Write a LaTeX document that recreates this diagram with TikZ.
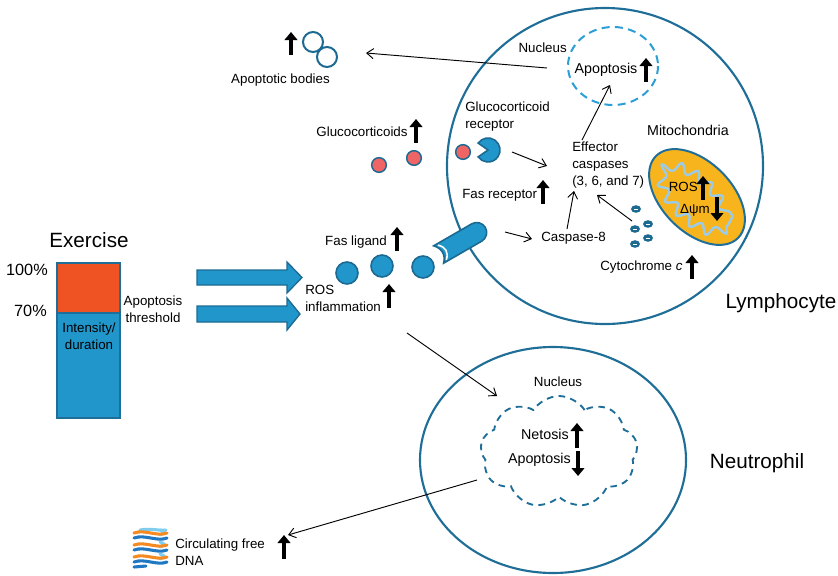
\documentclass[tikz,border=0pt]{standalone}
\usepackage{fontspec}
\setmainfont{Liberation Sans}
\usetikzlibrary{arrows.meta, shapes.symbols, decorations.pathmorphing}

\definecolor{membrane}{HTML}{1F6E98}
\definecolor{cellfill}{HTML}{2196CB}
\definecolor{cellline}{HTML}{1C6A92}
\definecolor{barorange}{HTML}{F05323}
\definecolor{mitofill}{HTML}{F8B41C}
\definecolor{coral}{HTML}{EF6464}
\definecolor{nucdash}{HTML}{2B9ED6}
\definecolor{cristae}{HTML}{9CCBE8}
\definecolor{dnaorange}{HTML}{F58A20}
\definecolor{dnablue}{HTML}{1F78C1}
\definecolor{dnalight}{HTML}{7FCDEE}

\tikzset{
  lbl/.style={inner sep=0pt, font=\fontsize{10}{12.75}\selectfont},
  midlbl/.style={inner sep=0pt, font=\fontsize{10.7}{13}\selectfont},
  biglbl/.style={inner sep=0pt, font=\fontsize{15.5}{18}\selectfont},
  uparr/.style={line width=3.3pt, -{Triangle[length=6pt,width=9.5pt]}},
  flow/.style={line width=0.7pt, -{Straight Barb[length=5pt,width=7.5pt]}},
  cellwall/.style={draw=membrane, line width=1.6pt},
  ball/.style={circle, fill=cellfill, draw=cellline, line width=1.2pt,
    minimum size=16.5pt, inner sep=0pt},
  hormone/.style={circle, fill=coral, draw=cellline, line width=1.1pt,
    minimum size=11pt, inner sep=0pt},
  body/.style={circle, fill=white, draw=cellline, line width=1.5pt,
    minimum size=15pt, inner sep=0pt},
  bigflow/.style={fill=cellfill, draw=cellline, line width=1pt},
  strand/.style={line width=2.3pt, line cap=round},
}

\begin{document}
\begin{tikzpicture}[x=0.75pt, y=-0.75pt]
\useasboundingbox (0,0) rectangle (838,575);

% ---------- cells ----------
\draw[cellwall] (605,166) circle[radius=158];
\draw[cellwall] (553,460) ellipse[x radius=133, y radius=113];

% lymphocyte nucleus
\draw[draw=nucdash, line width=1.5pt, dash pattern=on 6pt off 4pt]
  (613,66) ellipse[x radius=45, y radius=39];

% neutrophil nucleus
\node[cloud, cloud puffs=9, cloud puff arc=115, cloud ignores aspect,
  minimum width=118pt, minimum height=84pt, draw=membrane,
  line width=1.4pt, dash pattern=on 5pt off 4pt] (nuc2) at (559,452) {};

% mitochondrion
\begin{scope}[shift={(697,197)}, rotate=-45]
  \draw[fill=mitofill, draw=membrane, line width=1.5pt]
    (0,0) ellipse[x radius=58, y radius=35];
  \draw[cristae, line width=1.8pt, line join=round, decorate,
    decoration={snake, amplitude=3.6pt, segment length=12.55pt,
      pre length=0pt, post length=0pt}]
    (0,0) ellipse[x radius=42, y radius=20];
\end{scope}

% ---------- exercise bar ----------
\draw[fill=barorange, draw=membrane, line width=1.5pt] (57,263) rectangle (120,313);
\draw[fill=cellfill, draw=membrane, line width=1.5pt] (57,313) rectangle (120,418);

% broad arrows
\draw[bigflow] (197,270) -- (287,270) -- (287,262) -- (302,277.5) -- (287,293)
  -- (287,285) -- (197,285) -- cycle;
\draw[bigflow] (197,306) -- (287,306) -- (287,298) -- (300,314) -- (287,330)
  -- (287,322) -- (197,322) -- cycle;

% ---------- molecules ----------
\node[body] (ab1) at (313,42) {};
\node[body] (ab2) at (327,57) {};

\node[hormone] (gc1) at (379,165) {};
\node[hormone] (gc2) at (414,158) {};
\node[hormone] (gc3) at (463,152) {};
\fill[cellfill, draw=cellline, line width=1.2pt]
  (488,150) -- ++(215:12) arc[start angle=215, end angle=505, radius=12] -- cycle;
\coordinate (gcrec) at (488,150);

\node[ball] (fl1) at (347,273) {};
\node[ball] (fl2) at (382,266) {};
\node[ball] (fl3) at (423,267) {};

% Fas receptor channel
\begin{scope}[shift={(462,241)}, rotate=30]
  \draw[fill=cellfill, draw=cellline, line width=1.2pt]
    (-27,-10) -- (17,-10) arc[start angle=-90, end angle=90, radius=10]
    -- (-27,10) .. controls (-21,4) and (-21,-4) .. (-27,-10) -- cycle;
  \draw[white, line width=1.2pt] (-23,-8.5) .. controls (-17,-3) and (-17,3) .. (-23,8.5);
\end{scope}
\coordinate (fasrec) at (505,232);

% cytochrome c
\foreach \cx/\cy in {636/209, 635/229, 648/224, 648/238, 635/244}{
  \fill[cellline] (\cx,\cy) ellipse[x radius=5, y radius=3.8];
  \draw[white, line width=0.7pt] (\cx-1.8,\cy) -- (\cx+1.8,\cy);
}
\coordinate (cyt) at (632,221);

% circulating DNA helix
\foreach \by in {532,544,556}{
  \draw[dnalight, strand] (160,\by-2) .. controls (165,\by) .. (160,\by+3);
}
\foreach \by in {538,550,562}{
  \draw[dnablue, strand] (134,\by) .. controls (145,\by-4) and (157,\by+4) .. (167,\by);
}
\draw[dnalight, strand] (140,530) .. controls (150,528) and (160,531) .. (166,530);
\foreach \by in {533,545,557}{
  \draw[dnaorange, strand] (134,\by) .. controls (145,\by-4) and (157,\by+4) .. (167,\by);
}
\draw[dnablue, strand] (134,567) -- (146,566);
\coordinate (dna) at (288,535);

% ---------- labels ----------
\node[lbl] (apb) at (280.5,80) {Apoptotic bodies};
\draw[uparr] (291,55) -- (291,32);

\node[lbl, anchor=east] (nuc1lbl) at (567,48) {Nucleus};
\node[midlbl] (apo1) at (606,70) {Apoptosis};
\draw[uparr] (646,82) -- (646,58);

\node[lbl, align=left, anchor=west] (gcr) at (465,116.5) {Glucocorticoid\\receptor};
\node[lbl] (gc) at (362,132) {Glucocorticoids};
\draw[uparr] (416,143) -- (416,119);

\node[midlbl] (mitolbl) at (688,130) {Mitochondria};
\node[lbl, align=left, anchor=west] (eff) at (572,165) {Effector\\caspases\\(3, 6, and 7)};

\node[lbl, anchor=west] (fasr) at (462,195) {Fas receptor};
\draw[uparr] (543,204) -- (543,180);

\node[lbl, anchor=east] (ros) at (698,187) {ROS};
\draw[uparr] (703,200) -- (703,176);
\node[lbl, anchor=east] (dpsi) at (710,210) {Δψm};
\draw[uparr] (717,197) -- (717,221);

\node[lbl, anchor=west] (casp8) at (541,238) {Caspase-8};
\node[lbl] (fasl) at (356,242) {Fas ligand};
\draw[uparr] (397,251) -- (397,227);

\node[lbl, anchor=west] (cytc) at (600,267) {Cytochrome \textit{c}};
\draw[uparr] (692,279) -- (692,255);

\node[lbl, align=left, anchor=west] (rosinf) at (305,298) {ROS\\inflammation};
\draw[uparr] (389,308) -- (389,284);

\node[biglbl] (lymph) at (781,303) {Lymphocyte};
\node[biglbl] (exer) at (89,240) {Exercise};
\node[inner sep=0pt, font=\fontsize{12.2}{14}\selectfont, anchor=east] (p100) at (48,270) {100\%};
\node[inner sep=0pt, font=\fontsize{12.2}{14}\selectfont, anchor=east] (p70) at (47,311) {70\%};
\node[lbl, align=center] (thr) at (153,309) {Apoptosis\\threshold};
\node[lbl, align=center] (intd) at (89,336) {Intensity/\\duration};

\node[lbl] (nuc2lbl) at (558,382) {Nucleus};
\node[midlbl, anchor=east] (net) at (569,434) {Netosis};
\draw[uparr] (577,448) -- (577,423);
\node[midlbl, anchor=east] (apo2) at (571,460) {Apoptosis};
\draw[uparr] (578,451) -- (578,476);
\node[biglbl] (neut) at (757,463) {Neutrophil};

\node[lbl, align=left, anchor=west] (cfdna) at (175,552) {Circulating free\\DNA};
\draw[uparr] (284,559) -- (284,535);

% ---------- connectors ----------
\coordinate (n1out) at (547,68);
\coordinate (abin) at (366,53);
\coordinate (effup) at (582,140);
\coordinate (apoin) at (610,85);
\coordinate (gcout) at (512,152);
\coordinate (effin1) at (547,166);
\coordinate (casp8in) at (532,239);
\coordinate (casp8out) at (567,229);
\coordinate (effin2) at (574,191);
\coordinate (effin3) at (597,195);
\coordinate (rosout) at (407,333);
\coordinate (neutin) at (497,396);
\coordinate (n2out) at (477,480);

\draw[flow] (n1out) -- (abin);
\draw[flow] (effup) -- (apoin);
\draw[flow] (gcout) -- (effin1);
\draw[flow] (fasrec) -- (casp8in);
\draw[flow] (casp8out) -- (effin2);
\draw[flow] (cyt) -- (effin3);
\draw[flow] (rosout) -- (neutin);
\draw[flow] (n2out) -- (dna);
\end{tikzpicture}
\end{document}
